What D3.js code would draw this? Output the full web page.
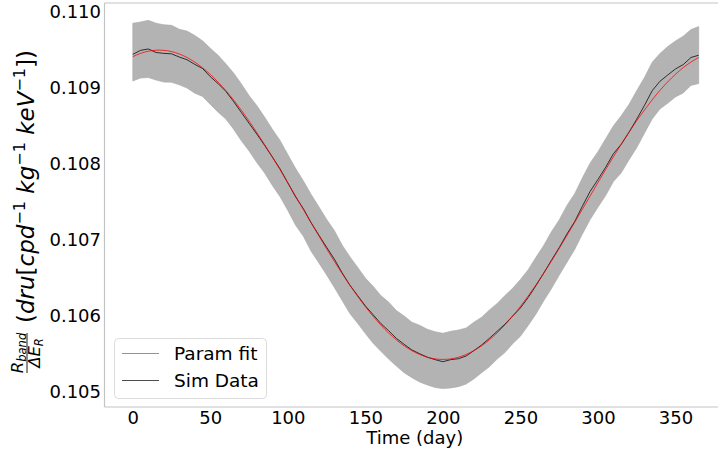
<!DOCTYPE html>
<html><head><meta charset="utf-8">
<script src="https://cdn.jsdelivr.net/npm/d3@7"></script>
<style>
html,body{margin:0;padding:0;background:#fff;}
svg{display:block;font-family:"DejaVu Sans",sans-serif;}
</style></head>
<body><svg id="c" width="718" height="456"></svg>
<script>
const days = [0,5,10,15,20,25,30,35,40,45,50,55,60,65,70,75,80,85,90,95,100,105,110,115,120,125,130,135,140,145,150,155,160,165,170,175,180,185,190,195,200,205,210,215,220,225,230,235,240,245,250,255,260,265,270,275,280,285,290,295,300,305,310,315,320,325,330,335,340,345,350,355,360,365];
const fitValues = [0.109406,0.109449,0.109477,0.109491,0.109489,0.109473,0.109441,0.109395,0.109334,0.109260,0.109172,0.109072,0.108960,0.108836,0.108702,0.108559,0.108407,0.108249,0.108086,0.107918,0.107745,0.107571,0.107396,0.107221,0.107048,0.106878,0.106712,0.106552,0.106399,0.106253,0.106116,0.105990,0.105874,0.105770,0.105679,0.105601,0.105537,0.105487,0.105451,0.105429,0.105422,0.105429,0.105451,0.105487,0.105538,0.105602,0.105680,0.105772,0.105876,0.105992,0.106119,0.106256,0.106402,0.106556,0.106716,0.106882,0.107052,0.107225,0.107399,0.107574,0.107749,0.107921,0.108089,0.108252,0.108410,0.108562,0.108704,0.108838,0.108962,0.109074,0.109174,0.109261,0.109335,0.109395];
const simValues = [0.109436,0.109489,0.109507,0.109461,0.109449,0.109443,0.109401,0.109365,0.109304,0.109250,0.109142,0.109052,0.108950,0.108816,0.108672,0.108529,0.108387,0.108239,0.108086,0.107928,0.107745,0.107561,0.107406,0.107221,0.107058,0.106898,0.106742,0.106562,0.106399,0.106263,0.106126,0.106010,0.105894,0.105800,0.105699,0.105621,0.105547,0.105497,0.105451,0.105419,0.105392,0.105419,0.105431,0.105467,0.105538,0.105612,0.105700,0.105792,0.105886,0.105992,0.106099,0.106236,0.106392,0.106556,0.106726,0.106892,0.107072,0.107235,0.107439,0.107634,0.107789,0.107951,0.108129,0.108252,0.108410,0.108582,0.108764,0.108958,0.109082,0.109164,0.109244,0.109301,0.109395,0.109425];
const bandUpper = [0.109846,0.109862,0.109884,0.109846,0.109826,0.109818,0.109766,0.109742,0.109686,0.109614,0.109518,0.109426,0.109312,0.109192,0.109048,0.108894,0.108762,0.108612,0.108452,0.108304,0.108118,0.107936,0.107772,0.107594,0.107432,0.107266,0.107118,0.106928,0.106774,0.106636,0.106492,0.106384,0.106262,0.106176,0.106066,0.105994,0.105912,0.105872,0.105818,0.105786,0.105766,0.105792,0.105808,0.105836,0.105912,0.105978,0.106074,0.106158,0.106262,0.106358,0.106474,0.106602,0.106766,0.106922,0.107102,0.107258,0.107448,0.107602,0.107812,0.108008,0.108156,0.108326,0.108496,0.108628,0.108776,0.108958,0.109132,0.109332,0.109448,0.109538,0.109612,0.109676,0.109762,0.109802];
const bandLower = [0.109086,0.109124,0.109131,0.109098,0.109072,0.109068,0.109035,0.108992,0.108926,0.108882,0.108778,0.108676,0.108584,0.108452,0.108298,0.108164,0.108012,0.107876,0.107712,0.107562,0.107382,0.107188,0.107042,0.106846,0.106692,0.106534,0.106368,0.106198,0.106026,0.105898,0.105762,0.105634,0.105528,0.105426,0.105334,0.105248,0.105182,0.105124,0.105086,0.105052,0.105038,0.105046,0.105064,0.105098,0.105166,0.105248,0.105326,0.105426,0.105512,0.105628,0.105726,0.105868,0.106018,0.106192,0.106352,0.106528,0.106698,0.106868,0.107072,0.107262,0.107424,0.107578,0.107762,0.107876,0.108046,0.108206,0.108398,0.108586,0.108718,0.108792,0.108876,0.108928,0.109028,0.109052];
const xTicks = [0,50,100,150,200,250,300,350];
const yTicks = [0.105,0.106,0.107,0.108,0.109,0.110];
const legendLabels = ["Param fit","Sim Data"];

const svg = d3.select("#c");
const L=104.5, R=727, T=3, B=407;
const x = d3.scaleLinear().domain([-18.25,383.25]).range([L,R]);
const y = d3.scaleLinear().domain([0.104796,0.110112]).range([B,T]);

const pts = days.map((d,i)=>({d, f:fitValues[i], s:simValues[i], u:bandUpper[i], l:bandLower[i]}));

svg.append("path").datum(pts)
  .attr("d", d3.area().x(p=>x(p.d)).y0(p=>y(p.l)).y1(p=>y(p.u)))
  .attr("fill","#b3b3b3").attr("stroke","#a8a8a8").attr("stroke-width",0.6);

svg.append("path").datum(pts)
  .attr("d", d3.line().x(p=>x(p.d)).y(p=>y(p.s)))
  .attr("fill","none").attr("stroke","#000").attr("stroke-opacity",0.75).attr("stroke-width",1);

svg.append("path").datum(pts)
  .attr("d", d3.line().curve(d3.curveNatural).x(p=>x(p.d)).y(p=>y(p.f)))
  .attr("fill","none").attr("stroke","#ff0000").attr("stroke-opacity",0.75).attr("stroke-width",1);

// spines
const sp = svg.append("g").attr("stroke","#c4c4c4").attr("stroke-width",1.2).attr("fill","none");
sp.append("line").attr("x1",L).attr("x2",L).attr("y1",T).attr("y2",B);
sp.append("line").attr("x1",L).attr("x2",R).attr("y1",B).attr("y2",B);
sp.append("line").attr("x1",L).attr("x2",R).attr("y1",T).attr("y2",T);

// axes
const xa = svg.append("g").attr("transform",`translate(0,${B})`)
  .call(d3.axisBottom(x).tickValues(xTicks).tickSize(0).tickPadding(4).tickFormat(d3.format("d")));
xa.select(".domain").remove();
xa.selectAll("text").attr("font-size",18).attr("fill","#000").attr("font-family","DejaVu Sans");
const ya = svg.append("g").attr("transform",`translate(${L},0)`)
  .call(d3.axisLeft(y).tickValues(yTicks).tickSize(0).tickPadding(3.5).tickFormat(d3.format(".3f")));
ya.select(".domain").remove();
ya.selectAll("text").attr("font-size",18).attr("fill","#000").attr("font-family","DejaVu Sans");

svg.append("text").attr("x",(L+R)/2 - 1).attr("y",444).attr("text-anchor","middle")
  .attr("font-size",18).attr("fill","#000").text("Time (day)");

// y label
const yl = svg.append("g").attr("transform","translate(34,199) rotate(-90)");
const mt = yl.append("text").attr("x",-124).attr("y",0).attr("font-size",23).attr("fill","#000");
const parts = [
  {t:"(",it:false},{t:"dru",it:true},{t:"[",it:false},{t:"cpd",it:true},{t:"\u22121",sup:true},
  {t:" kg",it:true},{t:"\u22121",sup:true},{t:" keV",it:true},{t:"\u22121",sup:true},{t:"])",it:false}
];
let prevSup=false;
parts.forEach(p=>{
  const ts = mt.append("tspan").text(p.t);
  if(p.sup){ ts.attr("font-size",16).attr("dy",-9); prevSup=true; }
  else { if(prevSup){ ts.attr("dy",9); prevSup=false;} ts.attr("font-style",p.it?"italic":"normal"); }
});
// fraction
const fx = -154;
const num = yl.append("text").attr("x",fx).attr("y",-11).attr("text-anchor","middle").attr("font-size",16.5).attr("fill","#000");
num.append("tspan").attr("font-style","italic").text("R");
num.append("tspan").attr("font-style","italic").attr("font-size",11.5).attr("dy",3).text("band");
yl.append("line").attr("x1",fx-20).attr("x2",fx+20).attr("y1",-7).attr("y2",-7).attr("stroke","#000").attr("stroke-width",0.9);
const den = yl.append("text").attr("x",fx).attr("y",6).attr("text-anchor","middle").attr("font-size",16.5).attr("fill","#000");
den.append("tspan").attr("font-style","italic").text("\u0394E");
den.append("tspan").attr("font-style","italic").attr("font-size",11.5).attr("dy",3).text("R");

// legend
const lg = svg.append("g");
lg.append("rect").attr("x",114.5).attr("y",338.5).attr("width",152).attr("height",60).attr("rx",4)
  .attr("fill","#fff").attr("fill-opacity",0.8).attr("stroke","#dcdcdc").attr("stroke-width",1);
const lcol = [["#ff0000",0.6],["#000",0.7]];
legendLabels.forEach((lab,i)=>{
  const yy = 353.5 + i*27;
  lg.append("line").attr("x1",122).attr("x2",159).attr("y1",yy).attr("y2",yy)
    .attr("stroke",lcol[i][0]).attr("stroke-opacity",lcol[i][1]).attr("stroke-width",1);
  lg.append("text").attr("x",174).attr("y",yy+6.5).attr("font-size",18.5).attr("fill","#000").text(lab);
});
</script></body></html>
